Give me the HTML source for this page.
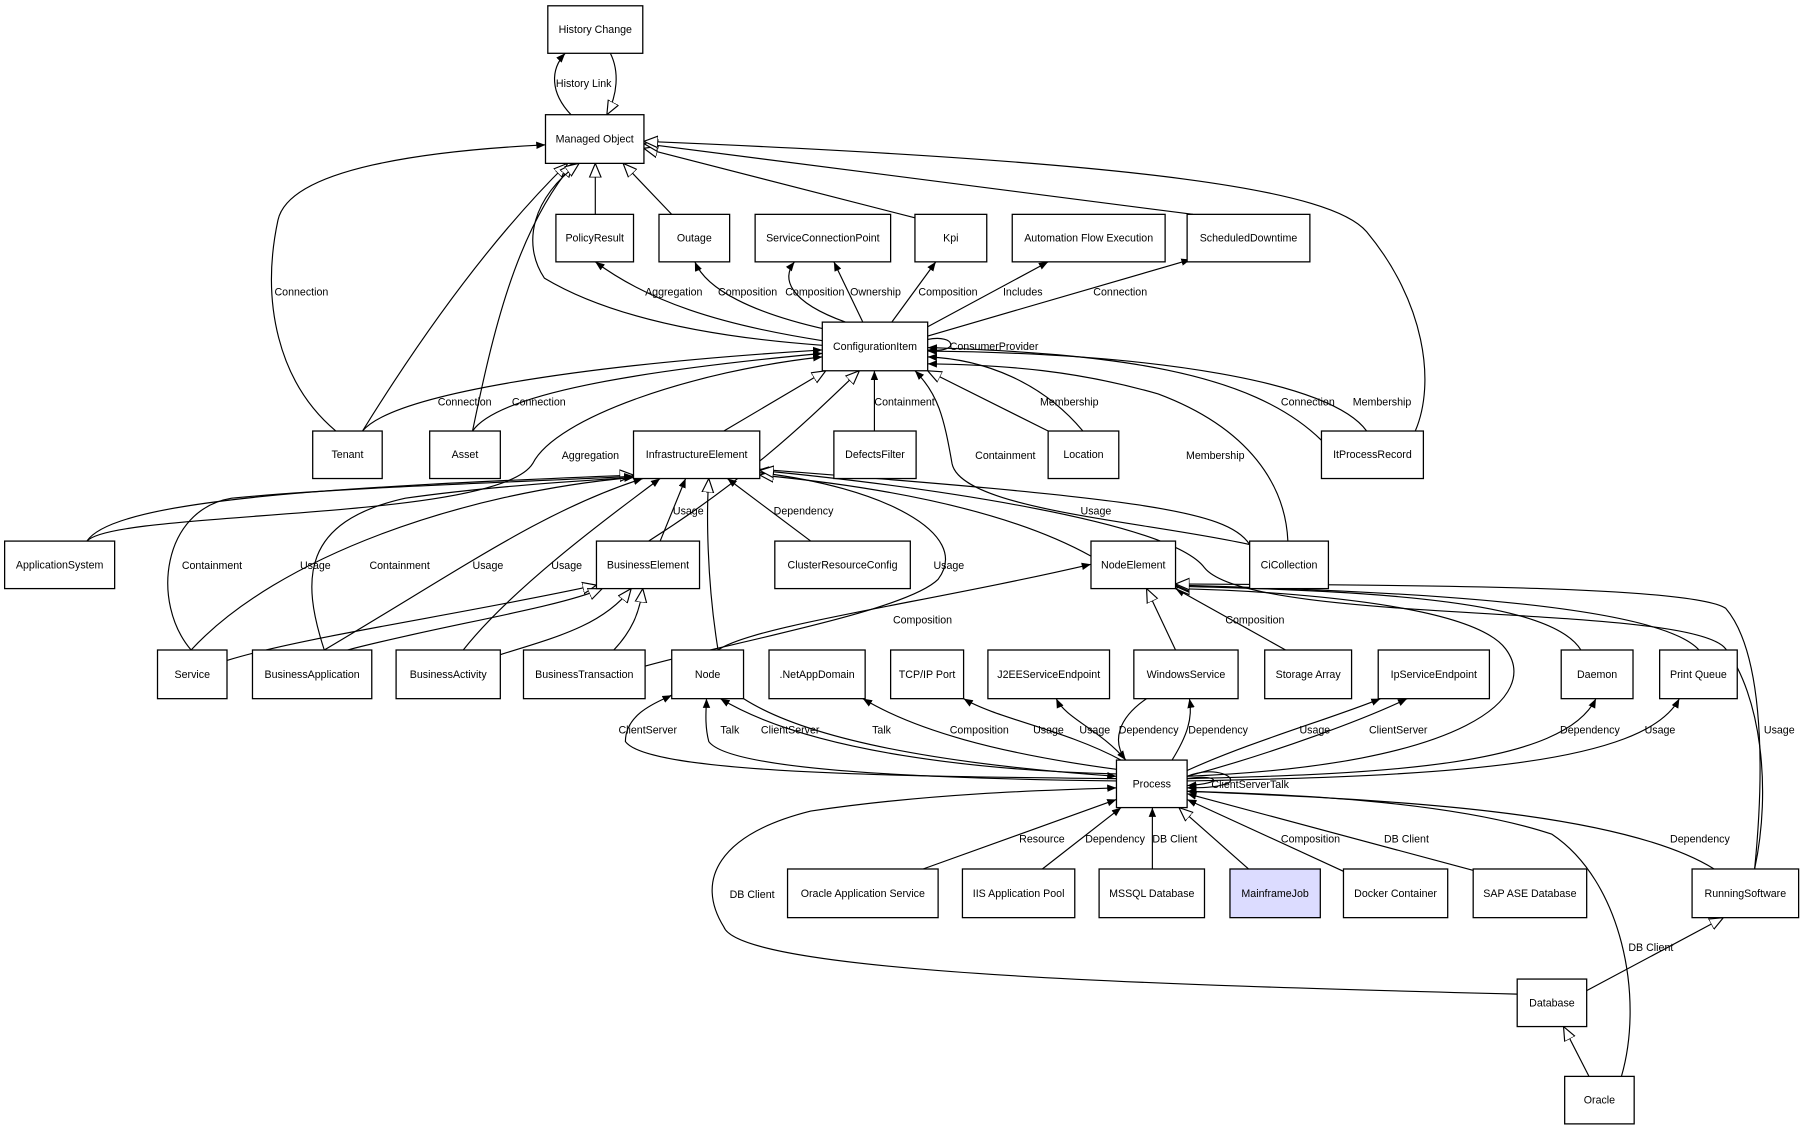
<!DOCTYPE html>
<html><head><meta charset="utf-8"><style>
html,body{margin:0;padding:0;background:#fff;}
svg{display:block;}
text{font-family:"Liberation Sans",Arial,sans-serif;font-size:9.2px;fill:#000;}
.n rect{fill:#fff;stroke:#000;stroke-width:1.1;}
.e path{fill:none;stroke:#000;stroke-width:1;}
</style></head><body>
<svg width="1816" height="1132" viewBox="0 0 1568 977" preserveAspectRatio="none" xmlns="http://www.w3.org/2000/svg">
<defs>
<marker id="a" viewBox="0 0 10 10" refX="10" refY="5" markerWidth="8" markerHeight="8" markerUnits="userSpaceOnUse" orient="auto"><path d="M0,1 L10,5 L0,9 z" fill="#000"/></marker>
<marker id="h" viewBox="0 0 12 12" refX="12" refY="6" markerWidth="12" markerHeight="12" markerUnits="userSpaceOnUse" orient="auto"><path d="M0,1 L12,6 L0,11 z" fill="#fff" stroke="#000" stroke-width="1"/></marker>
</defs>
<g class="e">
<path d="M493,99 C475,80 475,60 488,46" marker-end="url(#a)"/>
<path d="M527,46 C535,62 533,82 524,99" marker-end="url(#h)"/>
<path d="M290,372 C240,330 225,260 240,190 C250,145 370,130 471,125" marker-end="url(#a)"/>
<path d="M313,372 C370,280 430,200 490,141" marker-end="url(#h)"/>
<path d="M408,372 C425,290 445,200 495,141" marker-end="url(#h)"/>
<path d="M710,298 C600,290 520,270 470,240 C450,210 460,170 500,141" marker-end="url(#h)"/>
<path d="M514,185 L514,141" marker-end="url(#h)"/>
<path d="M580,185 L538,141" marker-end="url(#h)"/>
<path d="M790,188 L556,128" marker-end="url(#h)"/>
<path d="M1030,185 L556,124" marker-end="url(#h)"/>
<path d="M1222,372 C1240,330 1230,260 1180,200 C1150,165 1000,140 556,122" marker-end="url(#h)"/>
<path d="M710,294 C620,280 560,260 514,226" marker-end="url(#a)"/>
<path d="M712,284 C650,270 610,250 600,226" marker-end="url(#a)"/>
<path d="M730,278 C680,260 675,240 686,226" marker-end="url(#a)"/>
<path d="M745,278 L720,226" marker-end="url(#a)"/>
<path d="M770,278 L808,226" marker-end="url(#a)"/>
<path d="M801,282 L905,226" marker-end="url(#a)"/>
<path d="M801,290 L1028,224" marker-end="url(#a)"/>
<path d="M801,293 C825,288 830,305 801,302" marker-end="url(#a)"/>
<path d="M313,372 C340,340 500,315 710,302" marker-end="url(#a)"/>
<path d="M408,372 C430,340 550,320 710,305" marker-end="url(#a)"/>
<path d="M75,467 C100,440 430,450 460,400 C480,360 600,320 710,308" marker-end="url(#a)"/>
<path d="M625,372 L713,320" marker-end="url(#h)"/>
<path d="M560,467 C650,410 700,360 742,320" marker-end="url(#h)"/>
<path d="M755,372 L755,320" marker-end="url(#a)"/>
<path d="M905,372 L801,320" marker-end="url(#h)"/>
<path d="M935,372 C900,330 850,310 801,308" marker-end="url(#a)"/>
<path d="M1079,470 C990,450 830,440 822,400 C815,360 810,340 790,320" marker-end="url(#a)"/>
<path d="M1112,467 C1110,420 1080,370 1000,340 C930,320 870,315 801,314" marker-end="url(#a)"/>
<path d="M1141,380 C1080,320 960,305 801,300" marker-end="url(#a)"/>
<path d="M1180,372 C1150,330 1000,305 801,303" marker-end="url(#a)"/>
<path d="M75,467 C100,430 300,420 547,410" marker-end="url(#h)"/>
<path d="M165,561 C130,520 140,440 200,430 C300,420 480,415 547,411" marker-end="url(#a)"/>
<path d="M165,561 C240,480 400,425 547,412" marker-end="url(#a)"/>
<path d="M280,561 C260,500 260,450 350,430 C420,420 500,415 547,412" marker-end="url(#a)"/>
<path d="M280,561 C400,490 470,440 555,413" marker-end="url(#a)"/>
<path d="M400,561 C440,510 520,450 570,413" marker-end="url(#a)"/>
<path d="M570,467 L592,413" marker-end="url(#a)"/>
<path d="M620,561 C610,500 610,440 612,413" marker-end="url(#h)"/>
<path d="M700,467 L628,413" marker-end="url(#a)"/>
<path d="M540,580 C600,560 780,530 810,500 C840,460 760,420 656,408" marker-end="url(#a)"/>
<path d="M942,480 C870,440 760,420 656,410" marker-end="url(#h)"/>
<path d="M1079,470 C1060,440 980,430 656,405" marker-end="url(#a)"/>
<path d="M1515,750 C1530,680 1520,600 1490,560 C1460,520 1080,540 1040,490 C1010,450 800,420 656,406" marker-end="url(#h)"/>
<path d="M196,570 C260,550 400,530 515,505" marker-end="url(#h)"/>
<path d="M300,561 C380,540 480,525 520,508" marker-end="url(#h)"/>
<path d="M432,565 C480,550 520,540 545,508" marker-end="url(#h)"/>
<path d="M530,561 C545,545 552,530 555,508" marker-end="url(#h)"/>
<path d="M620,561 C650,540 800,520 942,487" marker-end="url(#a)"/>
<path d="M1015,561 L990,508" marker-end="url(#h)"/>
<path d="M1110,561 L1015,508" marker-end="url(#a)"/>
<path d="M1025,670 C1270,660 1330,600 1300,560 C1270,520 1100,510 1015,508" marker-end="url(#h)"/>
<path d="M1365,561 C1340,520 1200,510 1015,506" marker-end="url(#h)"/>
<path d="M1467,561 C1430,520 1200,510 1015,505" marker-end="url(#h)"/>
<path d="M1515,750 C1525,650 1520,560 1490,525 C1460,505 1200,505 1015,504" marker-end="url(#h)"/>
<path d="M964,672 C780,670 560,668 540,640 C540,615 570,605 580,600" marker-end="url(#a)"/>
<path d="M964,674 C800,672 630,665 612,640 C608,625 610,610 610,603" marker-end="url(#a)"/>
<path d="M964,668 C850,665 700,650 622,603" marker-end="url(#a)"/>
<path d="M642,603 C700,640 820,660 964,670" marker-end="url(#a)"/>
<path d="M964,664 C860,650 790,630 745,603" marker-end="url(#a)"/>
<path d="M968,656 C920,630 860,620 832,603" marker-end="url(#a)"/>
<path d="M972,656 C950,630 920,620 912,603" marker-end="url(#a)"/>
<path d="M990,603 C965,620 960,640 972,656" marker-end="url(#a)"/>
<path d="M1012,656 C1025,635 1030,620 1027,603" marker-end="url(#a)"/>
<path d="M1025,665 C1080,640 1150,620 1192,603" marker-end="url(#a)"/>
<path d="M1025,670 C1100,650 1180,620 1215,603" marker-end="url(#a)"/>
<path d="M1025,672 C1200,668 1350,660 1378,603" marker-end="url(#a)"/>
<path d="M1025,674 C1250,670 1420,660 1450,603" marker-end="url(#a)"/>
<path d="M1025,670 C1050,660 1070,672 1060,676 C1050,680 1035,680 1025,680" marker-end="url(#a)"/>
<path d="M1025,672 C1050,668 1060,676 1025,678" marker-end="url(#a)"/>
<path d="M797,750 L964,690" marker-end="url(#a)"/>
<path d="M900,750 L968,697" marker-end="url(#a)"/>
<path d="M995,750 L995,697" marker-end="url(#a)"/>
<path d="M1078,750 L1018,697" marker-end="url(#h)"/>
<path d="M1160,752 L1025,690" marker-end="url(#a)"/>
<path d="M1275,752 L1025,685" marker-end="url(#a)"/>
<path d="M1480,750 C1400,700 1200,690 1025,683" marker-end="url(#a)"/>
<path d="M1310,858 C1000,850 640,840 625,800 C600,760 620,720 700,700 C800,685 900,682 964,680" marker-end="url(#a)"/>
<path d="M1400,929 C1420,860 1400,760 1340,720 C1250,690 1100,685 1025,683" marker-end="url(#a)"/>
<path d="M1370,855 L1488,792" marker-end="url(#h)"/>
<path d="M1372,929 L1350,886" marker-end="url(#h)"/>
</g>
<g class="n">
<rect x="473" y="5" width="82" height="41"/><text x="514" y="28.5" text-anchor="middle">History Change</text>
<rect x="471" y="99" width="85" height="42"/><text x="513.5" y="123" text-anchor="middle">Managed Object</text>
<rect x="480" y="185" width="67" height="41"/><text x="513.5" y="208.5" text-anchor="middle">PolicyResult</text>
<rect x="569" y="185" width="61" height="41"/><text x="599.5" y="208.5" text-anchor="middle">Outage</text>
<rect x="652" y="185" width="117" height="41"/><text x="710.5" y="208.5" text-anchor="middle">ServiceConnectionPoint</text>
<rect x="790" y="185" width="62" height="41"/><text x="821" y="208.5" text-anchor="middle">Kpi</text>
<rect x="874" y="185" width="132" height="41"/><text x="940" y="208.5" text-anchor="middle">Automation Flow Execution</text>
<rect x="1025" y="185" width="106" height="41"/><text x="1078" y="208.5" text-anchor="middle">ScheduledDowntime</text>
<rect x="710" y="278" width="91" height="42"/><text x="755.5" y="302" text-anchor="middle">ConfigurationItem</text>
<rect x="270" y="372" width="60" height="41"/><text x="300" y="395.5" text-anchor="middle">Tenant</text>
<rect x="371" y="372" width="61" height="41"/><text x="401.5" y="395.5" text-anchor="middle">Asset</text>
<rect x="547" y="372" width="109" height="41"/><text x="601.5" y="395.5" text-anchor="middle">InfrastructureElement</text>
<rect x="720" y="372" width="71" height="41"/><text x="755.5" y="395.5" text-anchor="middle">DefectsFilter</text>
<rect x="905" y="372" width="61" height="41"/><text x="935.5" y="395.5" text-anchor="middle">Location</text>
<rect x="1141" y="372" width="88" height="41"/><text x="1185" y="395.5" text-anchor="middle">ItProcessRecord</text>
<rect x="4" y="467" width="95" height="41"/><text x="51.5" y="490.5" text-anchor="middle">ApplicationSystem</text>
<rect x="515" y="467" width="89" height="41"/><text x="559.5" y="490.5" text-anchor="middle">BusinessElement</text>
<rect x="669" y="467" width="117" height="41"/><text x="727.5" y="490.5" text-anchor="middle">ClusterResourceConfig</text>
<rect x="942" y="467" width="73" height="41"/><text x="978.5" y="490.5" text-anchor="middle">NodeElement</text>
<rect x="1079" y="467" width="68" height="41"/><text x="1113" y="490.5" text-anchor="middle">CiCollection</text>
<rect x="136" y="561" width="60" height="42"/><text x="166" y="585" text-anchor="middle">Service</text>
<rect x="218" y="561" width="103" height="42"/><text x="269.5" y="585" text-anchor="middle">BusinessApplication</text>
<rect x="342" y="561" width="90" height="42"/><text x="387" y="585" text-anchor="middle">BusinessActivity</text>
<rect x="452" y="561" width="105" height="42"/><text x="504.5" y="585" text-anchor="middle">BusinessTransaction</text>
<rect x="580" y="561" width="62" height="42"/><text x="611" y="585" text-anchor="middle">Node</text>
<rect x="664" y="561" width="83" height="42"/><text x="705.5" y="585" text-anchor="middle">.NetAppDomain</text>
<rect x="769" y="561" width="63" height="42"/><text x="800.5" y="585" text-anchor="middle">TCP/IP Port</text>
<rect x="853" y="561" width="105" height="42"/><text x="905.5" y="585" text-anchor="middle">J2EEServiceEndpoint</text>
<rect x="979" y="561" width="90" height="42"/><text x="1024" y="585" text-anchor="middle">WindowsService</text>
<rect x="1092" y="561" width="75" height="42"/><text x="1129.5" y="585" text-anchor="middle">Storage Array</text>
<rect x="1190" y="561" width="96" height="42"/><text x="1238" y="585" text-anchor="middle">IpServiceEndpoint</text>
<rect x="1348" y="561" width="62" height="42"/><text x="1379" y="585" text-anchor="middle">Daemon</text>
<rect x="1433" y="561" width="67" height="42"/><text x="1466.5" y="585" text-anchor="middle">Print Queue</text>
<rect x="964" y="656" width="61" height="41"/><text x="994.5" y="679.5" text-anchor="middle">Process</text>
<rect x="680" y="750" width="130" height="42"/><text x="745" y="774" text-anchor="middle">Oracle Application Service</text>
<rect x="831" y="750" width="97" height="42"/><text x="879.5" y="774" text-anchor="middle">IIS Application Pool</text>
<rect x="949" y="750" width="91" height="42"/><text x="994.5" y="774" text-anchor="middle">MSSQL Database</text>
<rect x="1062" y="750" width="78" height="42" style="fill:#dcdcff"/><text x="1101" y="774" text-anchor="middle">MainframeJob</text>
<rect x="1160" y="750" width="90" height="42"/><text x="1205" y="774" text-anchor="middle">Docker Container</text>
<rect x="1272" y="750" width="98" height="42"/><text x="1321" y="774" text-anchor="middle">SAP ASE Database</text>
<rect x="1461" y="750" width="92" height="42"/><text x="1507" y="774" text-anchor="middle">RunningSoftware</text>
<rect x="1310" y="845" width="60" height="41"/><text x="1340" y="868.5" text-anchor="middle">Database</text>
<rect x="1351" y="929" width="60" height="41"/><text x="1381" y="952.5" text-anchor="middle">Oracle</text>
</g>
<g>
<text x="480" y="75">History Link</text>
<text x="237" y="255">Connection</text>
<text x="557" y="255">Aggregation</text>
<text x="620" y="255">Composition</text>
<text x="678" y="255">Composition</text>
<text x="734" y="255">Ownership</text>
<text x="793" y="255">Composition</text>
<text x="866" y="255">Includes</text>
<text x="944" y="255">Connection</text>
<text x="820" y="302">ConsumerProvider</text>
<text x="378" y="350">Connection</text>
<text x="442" y="350">Connection</text>
<text x="755" y="350">Containment</text>
<text x="898" y="350">Membership</text>
<text x="1106" y="350">Connection</text>
<text x="1168" y="350">Membership</text>
<text x="485" y="396">Aggregation</text>
<text x="842" y="396">Containment</text>
<text x="1024" y="396">Membership</text>
<text x="581" y="444">Usage</text>
<text x="668" y="444">Dependency</text>
<text x="933" y="444">Usage</text>
<text x="157" y="491">Containment</text>
<text x="259" y="491">Usage</text>
<text x="319" y="491">Containment</text>
<text x="408" y="491">Usage</text>
<text x="476" y="491">Usage</text>
<text x="806" y="491">Usage</text>
<text x="771" y="538">Composition</text>
<text x="1058" y="538">Composition</text>
<text x="534" y="633">ClientServer</text>
<text x="622" y="633">Talk</text>
<text x="657" y="633">ClientServer</text>
<text x="753" y="633">Talk</text>
<text x="820" y="633">Composition</text>
<text x="892" y="633">Usage</text>
<text x="932" y="633">Usage</text>
<text x="966" y="633">Dependency</text>
<text x="1026" y="633">Dependency</text>
<text x="1122" y="633">Usage</text>
<text x="1182" y="633">ClientServer</text>
<text x="1347" y="633">Dependency</text>
<text x="1420" y="633">Usage</text>
<text x="1523" y="633">Usage</text>
<text x="1046" y="680">ClientServerTalk</text>
<text x="880" y="727">Resource</text>
<text x="937" y="727">Dependency</text>
<text x="995" y="727">DB Client</text>
<text x="1106" y="727">Composition</text>
<text x="1195" y="727">DB Client</text>
<text x="1442" y="727">Dependency</text>
<text x="630" y="775">DB Client</text>
<text x="1406" y="821">DB Client</text>
</g>
</svg>
</body></html>
